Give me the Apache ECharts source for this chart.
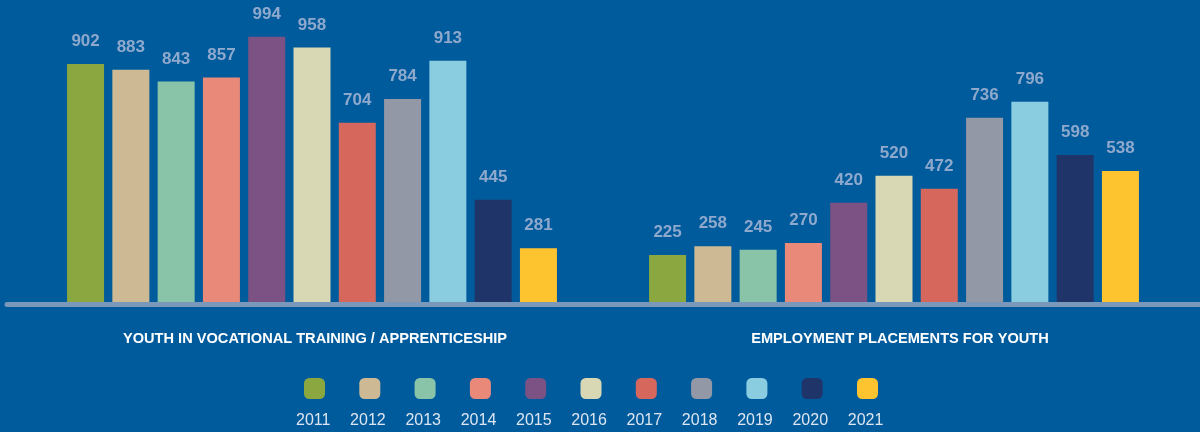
<!DOCTYPE html>
<html>
<head>
    <meta charset="utf-8">
    <title>Youth programmes</title>
    <script src="https://cdn.jsdelivr.net/npm/echarts@6/dist/echarts.min.js"></script>
    <style>
        html, body { margin: 0; padding: 0; background: #005b9d; }
        #grafico { width: 1200px; height: 432px; }
    </style>
</head>
<body>
    <div id="grafico"></div>
    <script>
        // datos
        const anios = ['2011', '2012', '2013', '2014', '2015', '2016', '2017', '2018', '2019', '2020', '2021'];
        const formacion = [902, 883, 843, 857, 994, 958, 704, 784, 913, 445, 281];
        const empleo = [225, 258, 245, 270, 420, 520, 472, 736, 796, 598, 538];
        const titulos = ['YOUTH IN VOCATIONAL TRAINING / APPRENTICESHIP', 'EMPLOYMENT PLACEMENTS FOR YOUTH'];
        const colores = ['#8aa83f', '#cdba95', '#8ac4a8', '#e8897a', '#7b5283', '#d8d8b4',
                         '#d6675d', '#9298a5', '#8acde0', '#1f3569', '#fec430'];

        const fuente = "'Liberation Sans', Arial, sans-serif";

        const chart = echarts.init(document.getElementById('grafico'));

        // una serie por año en cada grid
        function crearSeries(valores, idx) {
            return anios.map((anio, i) => ({
                name: anio,
                type: 'bar',
                xAxisIndex: idx,
                yAxisIndex: idx,
                barWidth: 37,
                barGap: '22.4%',
                itemStyle: { color: colores[i] },
                label: {
                    show: true,
                    position: 'top',
                    distance: 14,
                    color: '#8fa9cd',
                    fontFamily: fuente,
                    fontWeight: 'bold',
                    fontSize: 17
                },
                data: [valores[i]]
            }));
        }

        const ejeX = {
            type: 'category',
            data: ['x'],
            offset: 2.5,
            axisLine: { lineStyle: { color: '#7a98b9', width: 5 } },
            axisTick: { show: false },
            axisLabel: { show: false }
        };

        chart.setOption({
            backgroundColor: '#005b9d',
            animation: false,
            title: titulos.map((t, i) => ({
                text: t,
                left: i === 0 ? 310 : 895,
                top: 326,
                textAlign: 'center',
                textStyle: { color: '#ffffff', fontFamily: fuente, fontWeight: 'bold', fontSize: 14.6 }
            })),
            grid: [
                { left: 7, width: 610, top: 35, bottom: 130 },
                { left: 588, width: 612, top: 47, bottom: 130 }
            ],
            xAxis: [ Object.assign({ gridIndex: 0 }, ejeX), Object.assign({ gridIndex: 1 }, ejeX) ],
            yAxis: [
                { gridIndex: 0, type: 'value', min: 100, max: 1000, show: false },
                { gridIndex: 1, type: 'value', min: 50, max: 1000, show: false }
            ],
            legend: [
                {
                    data: anios,
                    left: 299,
                    top: 373,
                    icon: 'roundRect',
                    itemWidth: 21,
                    itemHeight: 21,
                    itemGap: 34.3,
                    formatter: () => '',
                    selectedMode: false
                },
                {
                    data: anios,
                    left: 286,
                    top: 408,
                    itemWidth: 0,
                    itemHeight: 0,
                    itemGap: 14.7,
                    itemStyle: { opacity: 0 },
                    selectedMode: false,
                    textStyle: { color: '#dde5f0', fontFamily: fuente, fontSize: 16 }
                }
            ],
            series: crearSeries(formacion, 0).concat(crearSeries(empleo, 1))
        });
    </script>
</body>
</html>
